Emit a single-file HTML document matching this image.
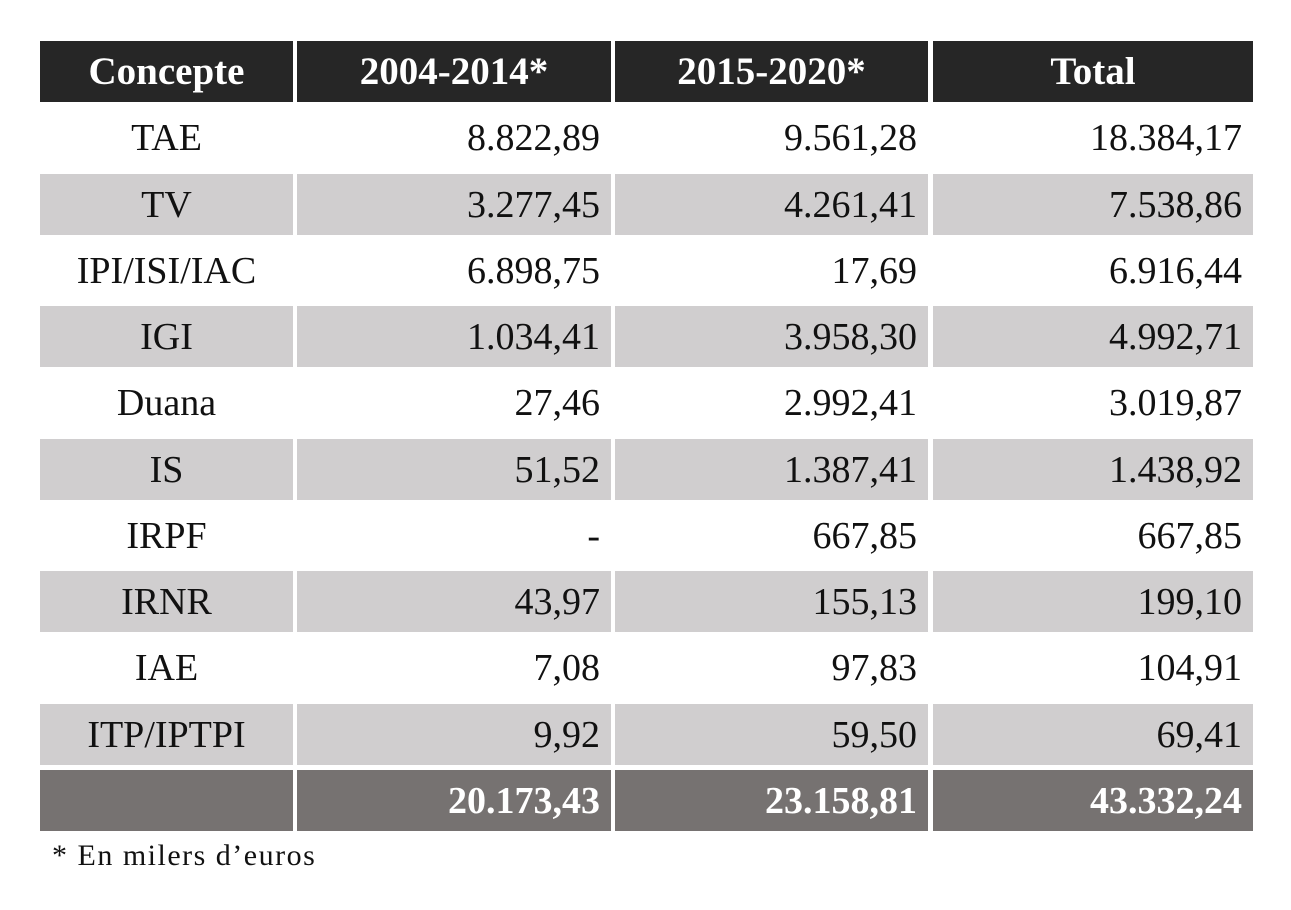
<!DOCTYPE html>
<html><head><meta charset="utf-8"><style>
body{margin:0;width:1291px;height:910px;background:#fff;position:relative;overflow:hidden;font-family:"Liberation Serif",serif;}
.row{position:absolute;left:0;height:61px;width:1291px;}
.c{position:absolute;top:0;height:61px;line-height:63px;font-size:38px;color:#111;box-sizing:border-box;white-space:nowrap;}
.c1{left:40px;width:253px;text-align:center;}
.c2{left:297px;width:314px;}
.c3{left:615px;width:313px;}
.c4{left:933px;width:320px;}
.c2,.c3,.c4{text-align:right;padding-right:11px;}
.h .c{background:#262626;color:#fff;font-weight:bold;text-align:center;font-size:39px;padding-right:0;line-height:62px;}
.g .c{background:#d0cecf;}
.t .c{background:#767271;color:#fff;font-weight:bold;}
.fn{position:absolute;left:52px;top:839px;font-size:30px;letter-spacing:1.5px;color:#111;}
</style></head><body>
<div class="row h" style="top:41px"><div class="c c1">Concepte</div><div class="c c2">2004-2014*</div><div class="c c3">2015-2020*</div><div class="c c4">Total</div></div>
<div class="row" style="top:107px"><div class="c c1">TAE</div><div class="c c2">8.822,89</div><div class="c c3">9.561,28</div><div class="c c4">18.384,17</div></div>
<div class="row g" style="top:174px"><div class="c c1">TV</div><div class="c c2">3.277,45</div><div class="c c3">4.261,41</div><div class="c c4">7.538,86</div></div>
<div class="row" style="top:240px"><div class="c c1">IPI/ISI/IAC</div><div class="c c2">6.898,75</div><div class="c c3">17,69</div><div class="c c4">6.916,44</div></div>
<div class="row g" style="top:306px"><div class="c c1">IGI</div><div class="c c2">1.034,41</div><div class="c c3">3.958,30</div><div class="c c4">4.992,71</div></div>
<div class="row" style="top:372px"><div class="c c1">Duana</div><div class="c c2">27,46</div><div class="c c3">2.992,41</div><div class="c c4">3.019,87</div></div>
<div class="row g" style="top:439px"><div class="c c1">IS</div><div class="c c2">51,52</div><div class="c c3">1.387,41</div><div class="c c4">1.438,92</div></div>
<div class="row" style="top:505px"><div class="c c1">IRPF</div><div class="c c2">-</div><div class="c c3">667,85</div><div class="c c4">667,85</div></div>
<div class="row g" style="top:571px"><div class="c c1">IRNR</div><div class="c c2">43,97</div><div class="c c3">155,13</div><div class="c c4">199,10</div></div>
<div class="row" style="top:637px"><div class="c c1">IAE</div><div class="c c2">7,08</div><div class="c c3">97,83</div><div class="c c4">104,91</div></div>
<div class="row g" style="top:704px"><div class="c c1">ITP/IPTPI</div><div class="c c2">9,92</div><div class="c c3">59,50</div><div class="c c4">69,41</div></div>
<div class="row t" style="top:770px"><div class="c c1"></div><div class="c c2">20.173,43</div><div class="c c3">23.158,81</div><div class="c c4">43.332,24</div></div>
<div class="fn">* En milers d’euros</div>
</body></html>
